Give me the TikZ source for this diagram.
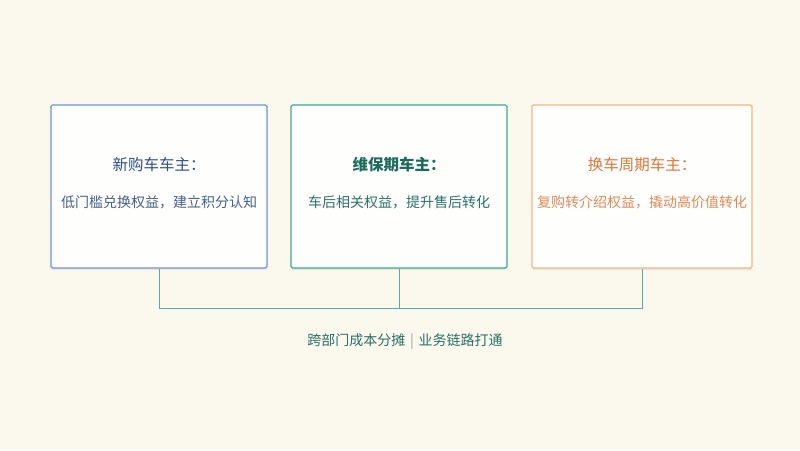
\documentclass[tikz,border=0pt]{standalone}
\usepackage{fontspec}
\setmainfont{Noto Sans CJK SC}
\usepackage{tikz}
\usetikzlibrary{shadows, positioning, calc}

\definecolor{bgcream}{HTML}{FBF8EE}
\definecolor{cardfill}{HTML}{FEFEFD}
\definecolor{newblue}{HTML}{7094D2}
\definecolor{newtext}{HTML}{2F4F86}
\definecolor{keepgreen}{HTML}{3FA890}
\definecolor{keeptext}{HTML}{1E6B5C}
\definecolor{swaporange}{HTML}{F6B583}
\definecolor{swaptext}{HTML}{E0743A}
\definecolor{linkteal}{HTML}{5AABA5}
\definecolor{footteal}{HTML}{2C7068}
\definecolor{sepgray}{HTML}{9AA8A6}

\begin{document}
\begin{tikzpicture}[x=1pt,y=-1pt,
  card/.style={line width=1.1pt,rounded corners=1.5pt,fill=cardfill,
    minimum width=216pt,minimum height=163pt,
    drop shadow={shadow xshift=0pt,shadow yshift=-2pt,opacity=0.07,fill=black}},
  title/.style={font=\fontsize{15.5}{18}\selectfont},
  desc/.style={font=\fontsize{14}{16}\selectfont},
  link/.style={draw=linkteal,line width=0.9pt}]
% Background and page size
\fill[bgcream] (0,0) rectangle (800,450);
\useasboundingbox (0,0) rectangle (800,450);

% Three owner stages
\node[card,draw=newblue] (newcard) at (159,186.5) {};
\node[card,draw=keepgreen] (keepcard) at (399,186.5) {};
\node[card,draw=swaporange,minimum width=220pt] (swapcard) at (642,186.5) {};

\node[title,text=newtext] (newtitle) at (159,165) {新购车车主：};
\node[desc,text=newtext!90!white] (newdesc) at (159,202) {低门槛兑换权益，建立积分认知};

\node[title,text=keeptext,font=\fontsize{15.5}{18}\selectfont\bfseries] (keeptitle) at (399,165) {维保期车主：};
\node[desc,text=keeptext!95!white] (keepdesc) at (399,202) {车后相关权益，提升售后转化};

\node[title,text=swaptext] (swaptitle) at (642,165) {换车周期车主：};
\node[desc,text=swaptext!85!white] (swapdesc) at (642,202) {复购转介绍权益，撬动高价值转化};

% Joining bracket below the cards
\coordinate (newjoin) at (newcard.south |- 0,308);
\coordinate (keepjoin) at (keepcard.south |- 0,308);
\coordinate (swapjoin) at (swapcard.south |- 0,308);
\draw[link] (newcard.south) -- (newjoin) -- (swapjoin) -- (swapcard.south);
\draw[link] (keepcard.south) -- (keepjoin);

\node[desc,text=footteal] (footer) at (405,342) {跨部门成本分摊\,\,{\color{sepgray}|}\,\,业务链路打通};
\end{tikzpicture}
\end{document}
